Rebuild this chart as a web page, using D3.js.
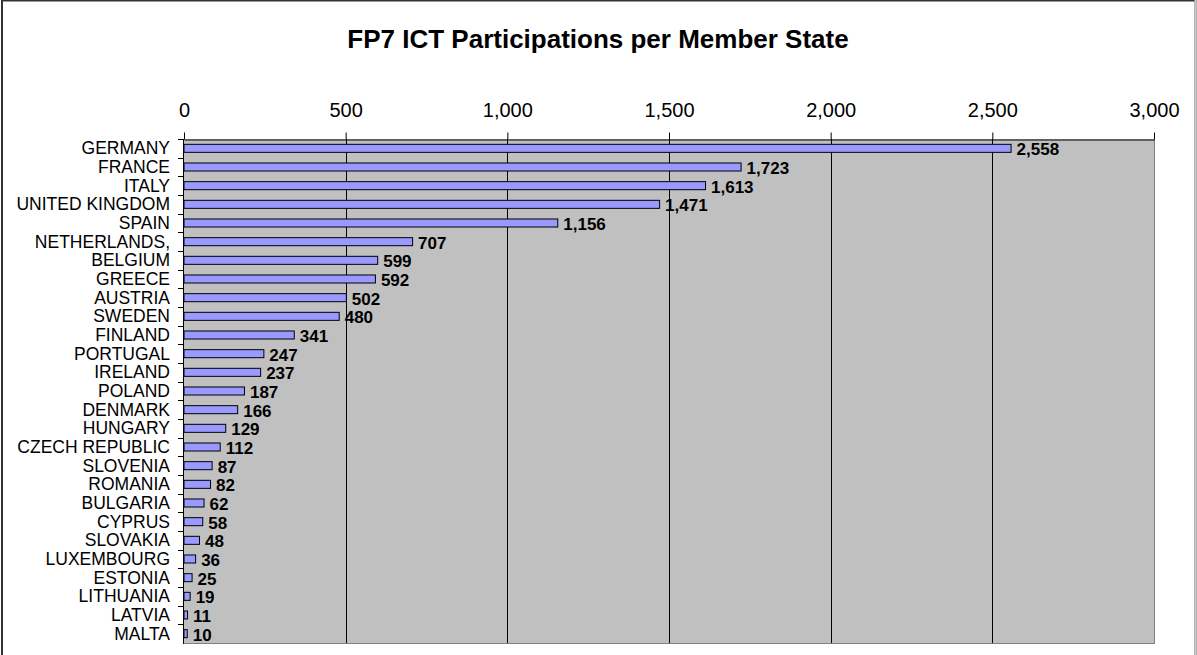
<!DOCTYPE html>
<html lang="en">
<head>
<meta charset="UTF-8">
<title>FP7 ICT Participations</title>
<script src="https://d3js.org/d3.v7.min.js"></script>
<style>
body{margin:0; background:#fff;}
svg{display:block; font-family:Arial, "Liberation Sans", sans-serif;}
</style>
</head>
<body>
<div class="chart"></div>
<script>
// data
var countries = ["GERMANY","FRANCE","ITALY","UNITED KINGDOM","SPAIN","NETHERLANDS,","BELGIUM","GREECE",
	"AUSTRIA","SWEDEN","FINLAND","PORTUGAL","IRELAND","POLAND","DENMARK","HUNGARY","CZECH REPUBLIC",
	"SLOVENIA","ROMANIA","BULGARIA","CYPRUS","SLOVAKIA","LUXEMBOURG","ESTONIA","LITHUANIA","LATVIA","MALTA"];
var participations = [2558,1723,1613,1471,1156,707,599,592,502,480,341,247,237,187,166,129,112,87,82,62,58,48,36,25,19,11,10];
var xTicks = [0,500,1000,1500,2000,2500,3000];

var w = 1197, h = 655;
var plotL = 184, plotR = 1154, plotT = 139, plotB = 643;

var svg = d3.select(".chart").append("svg")
	.attr("width", w)
	.attr("height", h);

// outer frame
svg.append("rect").attr("x", 2).attr("y", 0.5).attr("width", w - 3.5).attr("height", h + 10)
	.attr("fill", "#fff").attr("stroke", "#333").attr("stroke-width", 2);
svg.append("line").attr("x1", w - 1.5).attr("x2", w - 1.5).attr("y1", 0).attr("y2", h)
	.attr("stroke", "#ccc").attr("stroke-width", 2);

svg.append("text")
	.attr("x", 598).attr("y", 48)
	.attr("text-anchor", "middle")
	.attr("font-size", "26px").attr("font-weight", "bold")
	.text("FP7 ICT Participations per Member State");

var x = d3.scaleLinear().domain([0, 3000]).range([plotL, plotR]);
var y = d3.scaleBand().domain(countries).range([plotT, plotB]).paddingInner(0.57).paddingOuter(0.285);
var band = d3.scaleBand().domain(countries).range([plotT, plotB]);

// plot area
svg.append("rect").attr("x", plotL).attr("y", plotT).attr("width", plotR - plotL).attr("height", plotB - plotT)
	.attr("fill", "#c0c0c0");
svg.append("line").attr("x1", plotR + 0.5).attr("x2", plotR + 0.5).attr("y1", plotT).attr("y2", plotB)
	.attr("stroke", "#808080");
svg.append("line").attr("x1", plotL).attr("x2", plotR + 1).attr("y1", plotB + 0.5).attr("y2", plotB + 0.5)
	.attr("stroke", "#808080");

// gridlines
svg.selectAll("line.grid")
	.data(xTicks.slice(1, -1))
	.enter()
	.append("line")
	.attr("class", "grid")
	.attr("x1", function(d){ return Math.round(x(d)) + 0.5; })
	.attr("x2", function(d){ return Math.round(x(d)) + 0.5; })
	.attr("y1", plotT).attr("y2", plotB)
	.attr("stroke", "#000");

// top axis
var xAxis = svg.append("g")
	.attr("transform", "translate(0," + (plotT + 0.5) + ")")
	.call(d3.axisTop(x).tickValues(xTicks).tickFormat(d3.format(",")).tickSize(7).tickSizeOuter(0).tickPadding(16));
xAxis.select(".domain").attr("stroke", "#000");
xAxis.selectAll("text").attr("font-size", "20px").attr("font-family", "Arial, 'Liberation Sans', sans-serif").attr("fill", "#000");

// left axis: ticks at category boundaries
svg.append("line").attr("x1", plotL - 0.5).attr("x2", plotL - 0.5).attr("y1", plotT).attr("y2", plotB + 1)
	.attr("stroke", "#000");
svg.selectAll("line.ytick")
	.data(countries)
	.enter()
	.append("line")
	.attr("class", "ytick")
	.attr("x1", plotL - 6).attr("x2", plotL)
	.attr("y1", function(d){ return Math.round(band(d)) + 0.5; })
	.attr("y2", function(d){ return Math.round(band(d)) + 0.5; })
	.attr("stroke", "#000");

svg.selectAll("text.cat")
	.data(countries)
	.enter()
	.append("text")
	.attr("class", "cat")
	.attr("x", plotL - 14)
	.attr("y", function(d){ return band(d) + band.bandwidth() / 2 + 6; })
	.attr("text-anchor", "end")
	.attr("font-size", "17.5px")
	.text(function(d){ return d; });

// bars
svg.selectAll("rect.bar")
	.data(participations)
	.enter()
	.append("rect")
	.attr("class", "bar")
	.attr("x", plotL)
	.attr("y", function(d, i){ return y(countries[i]); })
	.attr("width", function(d){ return x(d) - plotL; })
	.attr("height", y.bandwidth())
	.attr("fill", "#9999ff")
	.attr("stroke", "#000")
	.attr("stroke-width", 1);

svg.selectAll("text.val")
	.data(participations)
	.enter()
	.append("text")
	.attr("class", "val")
	.attr("x", function(d){ return x(d) + 5.5; })
	.attr("y", function(d, i){ return band(countries[i]) + band.bandwidth() / 2 + 7; })
	.attr("font-size", "17px")
	.attr("font-weight", "bold")
	.text(function(d){ return d3.format(",")(d); });
</script>
</body>
</html>
